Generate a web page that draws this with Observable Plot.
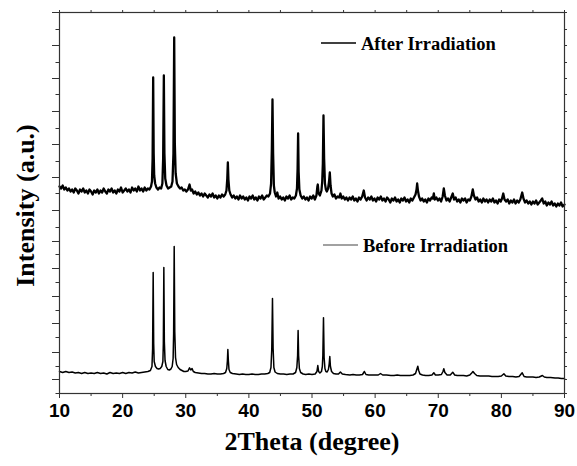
<!DOCTYPE html>
<html>
<head>
<meta charset="utf-8">
<script src="https://cdn.jsdelivr.net/npm/d3@7"></script>
<script src="https://cdn.jsdelivr.net/npm/@observablehq/plot@0.6"></script>
<style>
  html, body { margin: 0; padding: 0; background: #fff; }
  #chart svg { display: block; background: #fff; }
</style>
</head>
<body>
<div id="chart"></div>
<script>
// ---- Data (2θ in degrees, intensity in a.u.) ----
const afterXRD = [
  [10,207],[10.25,205],[10.5,208],[10.75,204],[11,206],[11.25,203],[11.5,205],[11.75,202],
  [12,204],[12.25,201],[12.5,205],[12.75,203],[13,200],[13.25,204],[13.5,202],[13.75,205],
  [14,201],[14.25,203],[14.5,200],[14.75,204],[15,202],[15.25,199],[15.5,203],[15.75,201],
  [16,204],[16.25,200],[16.5,203],[16.75,201],[17,205],[17.25,202],[17.5,200],[17.75,204],
  [18,202],[18.25,205],[18.5,201],[18.75,203],[19,200],[19.25,204],[19.5,202],[19.75,206],
  [20,201],[20.25,203],[20.5,205],[20.75,202],[21,204],[21.25,201],[21.5,206],[21.75,203],
  [22,205],[22.25,202],[22.5,207],[22.75,203],[23,205],[23.25,202],[23.5,206],[23.75,203],
  [24,205],[24.25,204],[24.5,207],[24.65,212],[24.75,235],[24.84,316],[24.92,240],[25.0,218],
  [25.15,210],[25.35,206],[25.6,204],[25.85,206],[26.1,205],[26.3,210],[26.42,235],[26.53,318],
  [26.62,240],[26.75,215],[26.95,208],[27.2,205],[27.45,206],[27.7,207],[27.9,212],[28.05,240],
  [28.17,356],[28.27,250],[28.4,220],[28.6,210],[28.85,207],[29.1,205],[29.35,206],[29.6,203],
  [29.85,204],[30.1,202],[30.35,204],[30.6,209],[30.8,203],[31.0,204],[31.25,200],[31.5,202],
  [31.75,199],[32,201],[32.25,198],[32.5,200],[32.75,197],[33,200],[33.25,198],[33.5,196],
  [33.75,199],[34,197],[34.25,200],[34.5,196],[34.75,198],[35,195],[35.25,198],[35.5,196],
  [35.75,199],[36,197],[36.25,199],[36.45,203],[36.58,215],[36.67,231],[36.76,214],[36.9,203],
  [37.1,199],[37.35,196],[37.6,198],[37.85,195],[38.1,197],[38.35,194],[38.6,198],[38.85,195],
  [39.1,197],[39.35,194],[39.6,196],[39.85,193],[40.1,197],[40.35,195],[40.6,198],[40.85,194],
  [41.1,196],[41.35,193],[41.6,197],[41.85,195],[42.1,198],[42.35,194],[42.6,196],[42.85,198],
  [43.1,197],[43.35,200],[43.52,210],[43.64,245],[43.74,294],[43.84,240],[43.96,208],[44.1,201],
  [44.3,197],[44.5,201],[44.7,195],[44.95,197],[45.2,194],[45.45,196],[45.7,193],[45.95,197],
  [46.2,195],[46.45,198],[46.7,194],[46.95,196],[47.2,195],[47.45,198],[47.62,205],[47.72,225],
  [47.8,260],[47.88,222],[48.0,204],[48.2,198],[48.45,195],[48.7,197],[48.95,194],[49.2,196],
  [49.45,193],[49.7,197],[49.95,195],[50.2,198],[50.45,194],[50.7,198],[50.85,207],[50.92,209],
  [51.05,200],[51.25,198],[51.5,203],[51.62,212],[51.72,230],[51.82,278],[51.92,235],[52.05,210],
  [52.2,204],[52.35,202],[52.55,205],[52.7,212],[52.82,221],[52.94,208],[53.1,200],[53.3,197],
  [53.55,199],[53.8,195],[54.05,197],[54.3,196],[54.5,200],[54.7,195],[54.95,197],[55.2,194],
  [55.45,196],[55.7,193],[55.95,196],[56.2,194],[56.45,197],[56.7,193],[56.95,195],[57.2,192],
  [57.45,196],[57.7,194],[57.95,197],[58.2,203],[58.4,196],[58.65,193],[58.9,196],[59.15,194],
  [59.4,197],[59.65,193],[59.9,195],[60.15,192],[60.4,196],[60.65,194],[60.9,197],[61.15,193],
  [61.4,195],[61.65,192],[61.9,196],[62.15,194],[62.4,191],[62.65,195],[62.9,193],[63.15,196],
  [63.4,192],[63.65,194],[63.9,191],[64.15,195],[64.4,193],[64.65,196],[64.9,192],[65.15,194],
  [65.4,191],[65.65,195],[65.9,193],[66.15,196],[66.4,199],[66.56,204],[66.66,210],[66.78,203],
  [66.95,197],[67.2,193],[67.45,195],[67.7,192],[67.95,194],[68.2,191],[68.45,195],[68.7,193],
  [68.95,196],[69.15,195],[69.3,200],[69.45,194],[69.7,196],[69.95,193],[70.2,195],[70.45,192],
  [70.7,197],[70.88,205],[71.05,198],[71.3,193],[71.55,195],[71.8,192],[72.05,196],[72.3,200],
  [72.5,194],[72.75,196],[73.0,192],[73.25,194],[73.5,191],[73.75,195],[74.0,193],[74.25,195],
  [74.5,191],[74.75,194],[75.0,193],[75.25,197],[75.47,204],[75.65,198],[75.9,194],[76.15,196],
  [76.4,192],[76.65,194],[76.9,191],[77.15,195],[77.4,192],[77.65,194],[77.9,191],[78.15,194],
  [78.4,192],[78.65,195],[78.9,191],[79.15,193],[79.4,190],[79.65,194],[79.9,192],[80.1,195],
  [80.3,200],[80.5,194],[80.75,192],[81.0,194],[81.25,190],[81.5,193],[81.75,191],[82.0,194],
  [82.25,190],[82.5,193],[82.75,191],[83.0,194],[83.3,201],[83.5,195],[83.75,191],[84.0,193],
  [84.25,190],[84.5,192],[84.75,189],[85.0,192],[85.25,190],[85.5,193],[85.75,189],[86.0,191],
  [86.25,193],[86.47,195],[86.7,190],[86.95,192],[87.2,188],[87.45,191],[87.7,189],[87.95,192],
  [88.2,188],[88.45,190],[88.7,187],[88.95,190],[89.2,188],[89.45,191],[89.7,187],[90,189]
];

const beforeXRD = [
  [10,22],[10.5,21],[11,22],[11.5,21],[12,21.5],[12.5,20.5],[13,21],[13.5,20],[14,21],[14.5,20],
  [15,20.5],[15.5,20],[16,21],[16.5,20],[17,20.5],[17.5,19.5],[18,21],[18.5,20],[19,20.5],[19.5,20],
  [20,21],[20.5,20],[21,21],[21.5,20.5],[22,21.5],[22.5,20.5],[23,21],[23.5,21.5],[24,22],[24.4,23],
  [24.65,27],[24.75,45],[24.84,121],[24.92,50],[25.0,32],[25.2,27],[25.45,25],[25.7,24.5],[25.95,25],
  [26.2,27],[26.38,32],[26.45,50],[26.53,126],[26.61,52],[26.72,33],[26.9,27],[27.15,24],[27.4,23.5],
  [27.65,24.5],[27.85,27],[28.0,35],[28.08,60],[28.17,147],[28.26,62],[28.38,36],[28.55,29],[28.8,26],
  [29.1,24],[29.4,23],[29.7,22],[30.0,22],[30.35,22.5],[30.6,25.7],[30.8,23.5],[31.0,25],[31.2,22],
  [31.5,21],[32,20.5],[32.5,20],[33,20],[33.5,19.5],[34,19.5],[34.5,20],[35,19.5],[35.5,19.5],[36,20],
  [36.3,21],[36.5,25],[36.6,33],[36.67,44],[36.75,33],[36.85,24],[37.05,21],[37.4,20],[38,19.5],
  [38.5,19],[39,19.5],[39.5,19],[40,19],[40.5,19.5],[41,19],[41.5,19],[42,19.5],[42.5,19.5],[43,20],
  [43.3,21],[43.5,26],[43.63,45],[43.74,95],[43.84,45],[43.96,26],[44.15,21.5],[44.5,20],[45,19.5],
  [45.5,19.5],[46,19],[46.5,19.5],[47,19.5],[47.4,21],[47.6,26],[47.72,38],[47.8,63],[47.88,38],
  [48.0,25],[48.2,21],[48.6,19.5],[49,19],[49.5,19.5],[50,19],[50.5,19.5],[50.78,22],[50.92,28],
  [51.05,22],[51.25,20.5],[51.5,22],[51.64,27],[51.72,38],[51.82,75.7],[51.92,36],[52.05,25],
  [52.2,22],[52.4,21.5],[52.6,24],[52.73,30],[52.82,37],[52.92,27],[53.1,22],[53.4,20],[53.8,19.5],
  [54.2,19.5],[54.5,21.5],[54.8,19.5],[55.3,19],[56,18.5],[56.5,19],[57,18.5],[57.5,18.5],[58,19],
  [58.3,22],[58.55,19],[59,18.5],[59.5,18.5],[60,18.5],[60.5,18.5],[60.85,20],[61.2,18.5],[61.8,18.5],
  [62.5,18],[63,18],[63.5,18.5],[64,18],[64.5,18],[65,18],[65.5,18],[66,18.5],[66.4,20],[66.6,24],
  [66.76,27.3],[66.9,23],[67.1,19.5],[67.5,18.5],[68,18],[68.5,18],[69,18.5],[69.3,20.7],[69.55,18.5],
  [70,18.5],[70.5,19],[70.75,22],[70.88,24.7],[71.05,21],[71.4,18.5],[71.9,18.5],[72.3,21.3],
  [72.6,18.5],[73,18],[73.5,18],[74,18],[74.5,17.5],[75,18.5],[75.3,20.5],[75.5,22],[75.75,20],
  [76.1,18],[76.6,17.5],[77,17.5],[77.5,17.5],[78,17.5],[78.5,17],[79,17],[79.5,17],[80,17.5],
  [80.4,19.7],[80.7,17.5],[81.2,17],[81.8,17],[82.3,16.5],[82.8,17],[83.3,20.7],[83.6,17],[84,16.5],
  [84.5,16.5],[85,16.5],[85.5,16],[86,16.5],[86.5,18],[86.8,16.5],[87.2,16],[87.8,16],[88.5,15.5],
  [89,15.5],[89.5,15],[90,15]
];

const xTickLabels = [10, 20, 30, 40, 50, 60, 70, 80, 90];
const xMinorTicks = [15, 25, 35, 45, 55, 65, 75, 85];
const xTopTicks = [10, 15, 20, 25, 30, 35, 40, 45, 50, 55, 60, 65, 70, 75, 80, 85, 90];
const yMajorTicks = [381, 348, 315, 282, 249, 216, 183, 152, 125, 97, 70, 41, 14];
const yMinorTicks = [364, 331, 299, 265, 232, 200, 166, 139, 111, 83, 56, 27, 0];
const legendLabels = ["After Irradiation", "Before Irradiation"];
const xTitle = "2Theta (degree)";
const yTitle = "Intensity (a.u.)";

// ---- Layout ----
const W = 577, H = 466;
const mL = 59, mR = 13, mT = 12, mB = 73;
const serif = "'Liberation Serif', 'Times New Roman', serif";
const sans = "'Liberation Sans', Arial, sans-serif";
const axisColor = "#333";

function legendEntry(label, lx, ly, lineColor, lineWidth) {
  return () => {
    const g = d3.create("svg:g");
    g.append("line")
      .attr("x1", lx).attr("x2", lx + 35).attr("y1", ly).attr("y2", ly)
      .attr("stroke", lineColor).attr("stroke-width", lineWidth);
    g.append("text")
      .attr("x", lx + 40).attr("y", ly + 7)
      .attr("text-anchor", "start")
      .attr("font-family", serif).attr("font-weight", "bold")
      .attr("font-size", 18.5).attr("fill", "#000")
      .text(label);
    return g.node();
  };
}

const chart = Plot.plot({
  width: W,
  height: H,
  marginLeft: mL,
  marginRight: mR,
  marginTop: mT,
  marginBottom: mB,
  style: {background: "#fff", overflow: "visible"},
  x: {domain: [10, 90]},
  y: {domain: [0, 381]},
  marks: [
    Plot.line(beforeXRD, {x: d => d[0], y: d => d[1], stroke: "#000", strokeWidth: 1.5}),
    Plot.line(afterXRD, {x: d => d[0], y: d => d[1], stroke: "#000", strokeWidth: 2.3}),
    Plot.frame({stroke: axisColor, strokeWidth: 1.2}),
    // left axis ticks
    Plot.axisY(yMajorTicks, {anchor: "left", tickSize: 7, tickFormat: () => "", label: null, stroke: axisColor}),
    Plot.axisY(yMinorTicks, {anchor: "left", tickSize: 3.5, tickFormat: () => "", label: null, stroke: axisColor}),
    // right axis ticks
    Plot.axisY(yMajorTicks.concat(yMinorTicks), {anchor: "right", tickSize: 2, tickFormat: () => "", label: null, stroke: axisColor}),
    // top axis ticks
    Plot.axisX(xTopTicks, {anchor: "top", tickSize: 3, tickFormat: () => "", label: null, stroke: axisColor}),
    // bottom axis
    Plot.axisX(xTickLabels, {
      anchor: "bottom", tickSize: 5, tickPadding: 5, label: null, stroke: axisColor,
      tickFormat: d => String(d),
      fontSize: 19, fontWeight: "bold", fontFamily: sans, fill: "#000"
    }),
    Plot.axisX(xMinorTicks, {anchor: "bottom", tickSize: 3, tickFormat: () => "", label: null, stroke: axisColor}),
    // axis titles
    Plot.text([xTitle], {
      text: d => d, frameAnchor: "bottom", textAnchor: "middle", lineAnchor: "top", dy: 38.5,
      fontFamily: serif, fontWeight: "bold", fontSize: 26, fill: "#000"
    }),
    Plot.text([yTitle], {
      text: d => d, frameAnchor: "left", textAnchor: "middle", lineAnchor: "middle", rotate: -90, dx: -34, dy: 2.5,
      fontFamily: serif, fontWeight: "bold", fontSize: 26, fill: "#000"
    }),
    // legends
    legendEntry(legendLabels[0], 321, 43, "#000", 1.5),
    legendEntry(legendLabels[1], 323, 245, "#444", 1.2)
  ]
});

document.getElementById("chart").appendChild(chart);
</script>
</body>
</html>
